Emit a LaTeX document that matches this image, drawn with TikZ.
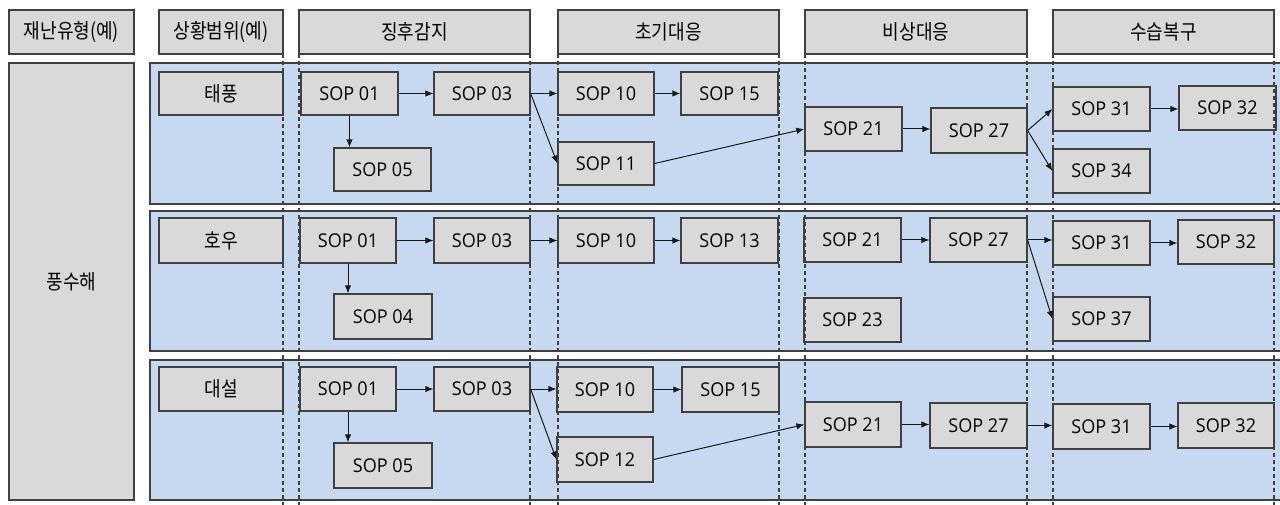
\documentclass[tikz,border=0pt]{standalone}
\usepackage{fontspec}
\setmainfont{Open Sans}
\newfontfamily\kofont{Noto Sans CJK KR}[FakeStretch=0.88]
\newfontfamily\sopfont{Open Sans}[FakeStretch=0.95]
\usetikzlibrary{arrows.meta}
\definecolor{bandblue}{HTML}{C6D9F1}
\definecolor{boxgray}{HTML}{D9D9D9}
\definecolor{linec}{HTML}{404040}
\newcommand{\bx}[7]{\node[#1, minimum width={#5-#3}, minimum height={#6-#4}] (#2) at ({(#3+#5)/2},{(#4+#6)/2}) {#7};}
\begin{document}
\begin{tikzpicture}[x=1pt,y=-1pt,
  boxst/.style={draw=linec, fill=boxgray, line width=1.2pt, inner sep=0pt, font=\sopfont\fontsize{19}{22}\selectfont},
  kbox/.style={boxst, font=\kofont\fontsize{20.5}{23}\selectfont},
  band/.style={draw=linec, fill=bandblue, line width=1.5pt},
  sepline/.style={draw=linec, dash pattern=on 4pt off 3pt, line width=1.2pt},
  arr/.style={draw=black!90, line width=1pt, -{Latex[length=8pt,width=6.5pt]}}]
\useasboundingbox (0,0) rectangle (1280,505);
\fill[white] (0,0) rectangle (1280,505);
\begin{scope}
\clip (0,0) rectangle (1280,505);
% bands
\draw[band] (150,63) rectangle (1290,204);
\draw[band] (150,211) rectangle (1290,351);
\draw[band] (150,360) rectangle (1290,500);

% headers
\bx{kbox}{h1}{9}{10}{134}{54}{재난유형(예)}
\bx{kbox}{h2}{159}{10}{283}{54}{상황범위(예)}
\bx{kbox}{h3}{299}{10}{530}{54}{징후감지}
\bx{kbox}{h4}{558}{10}{779}{54}{초기대응}
\bx{kbox}{h5}{805}{10}{1027}{54}{비상대응}
\bx{kbox}{h6}{1053}{10}{1274}{54}{수습복구}
\bx{kbox}{L}{9}{63}{134}{500}{풍수해}

% row 1
\bx{kbox}{r1}{159}{72}{283}{115}{태풍}
\bx{boxst}{a01}{301}{72}{398}{115}{SOP 01}
\bx{boxst}{a05}{334}{148}{431}{191}{SOP 05}
\bx{boxst}{a03}{434}{72}{530}{115}{SOP 03}
\bx{boxst}{a10}{558}{72}{654}{115}{SOP 10}
\bx{boxst}{a15}{681}{72}{778}{115}{SOP 15}
\bx{boxst}{a11}{558}{142}{654}{185}{SOP 11}
\bx{boxst}{a21}{805}{107}{902}{151}{SOP 21}
\bx{boxst}{a27}{931}{108}{1027}{153}{SOP 27}
\bx{boxst}{a31}{1053}{87}{1150}{131}{SOP 31}
\bx{boxst}{a32}{1179}{86}{1276}{130}{SOP 32}
\bx{boxst}{a34}{1053}{149}{1150}{193}{SOP 34}

% row 2
\bx{kbox}{r2}{159}{218}{283}{263}{호우}
\bx{boxst}{b01}{300}{218}{396}{263}{SOP 01}
\bx{boxst}{b04}{334}{294}{432}{339}{SOP 04}
\bx{boxst}{b03}{434}{218}{530}{263}{SOP 03}
\bx{boxst}{b10}{558}{218}{654}{263}{SOP 10}
\bx{boxst}{b13}{681}{218}{778}{263}{SOP 13}
\bx{boxst}{b21}{804}{218}{901}{262}{SOP 21}
\bx{boxst}{b27}{930}{218}{1027}{262}{SOP 27}
\bx{boxst}{b31}{1053}{221}{1150}{265}{SOP 31}
\bx{boxst}{b32}{1178}{220}{1274}{264}{SOP 32}
\bx{boxst}{b23}{804}{298}{901}{342}{SOP 23}
\bx{boxst}{b37}{1053}{297}{1150}{341}{SOP 37}

% row 3
\bx{kbox}{r3}{159}{367}{283}{411}{대설}
\bx{boxst}{c01}{300}{367}{396}{411}{SOP 01}
\bx{boxst}{c05}{334}{443}{432}{488}{SOP 05}
\bx{boxst}{c03}{434}{367}{530}{411}{SOP 03}
\bx{boxst}{c10}{557}{367}{653}{412}{SOP 10}
\bx{boxst}{c15}{682}{367}{779}{412}{SOP 15}
\bx{boxst}{c12}{557}{437}{653}{482}{SOP 12}
\bx{boxst}{c21}{805}{402}{901}{447}{SOP 21}
\bx{boxst}{c27}{930}{403}{1027}{448}{SOP 27}
\bx{boxst}{c31}{1053}{404}{1150}{449}{SOP 31}
\bx{boxst}{c32}{1178}{403}{1274}{448}{SOP 32}

% dashed column separators
\foreach \x in {283,299,530,558,779,805,1027,1053,1274}
  \draw[sepline] (\x,54) -- (\x,505);

% arrows row 1
\draw[arr] (a01) -- (a03);
\draw[arr] (a01.south) -- (a01.south |- a05.north);
\draw[arr] (a03) -- (a10);
\draw[arr] (a03.east) -- (a11.west);
\draw[arr] (a10) -- (a15);
\draw[arr] (a11.east) -- (a21.west);
\draw[arr] (a21.east) -- (a21.east -| a27.west);
\draw[arr] (a27.east) -- (a31.west);
\draw[arr] (a27.east) -- (a34.west);
\draw[arr] (a31.east) -- (a31.east -| a32.west);

% arrows row 2
\draw[arr] (b01) -- (b03);
\draw[arr] (b01.south) -- (b01.south |- b04.north);
\draw[arr] (b03) -- (b10);
\draw[arr] (b10) -- (b13);
\draw[arr] (b21) -- (b27);
\draw[arr] (b27.east) -- (b27.east -| b31.west);
\draw[arr] (b27.east) -- (b37.west);
\draw[arr] (b31.east) -- (b31.east -| b32.west);

% arrows row 3
\draw[arr] (c01) -- (c03);
\draw[arr] (c01.south) -- (c01.south |- c05.north);
\draw[arr] (c03.east) -- (c03.east -| c10.west);
\draw[arr] (c03.east) -- (c12.west);
\draw[arr] (c10) -- (c15);
\draw[arr] (c12.east) -- (c21.west);
\draw[arr] (c21.east) -- (c21.east -| c27.west);
\draw[arr] (c27.east) -- (c27.east -| c31.west);
\draw[arr] (c31.east) -- (c31.east -| c32.west);
\end{scope}
\end{tikzpicture}
\end{document}
